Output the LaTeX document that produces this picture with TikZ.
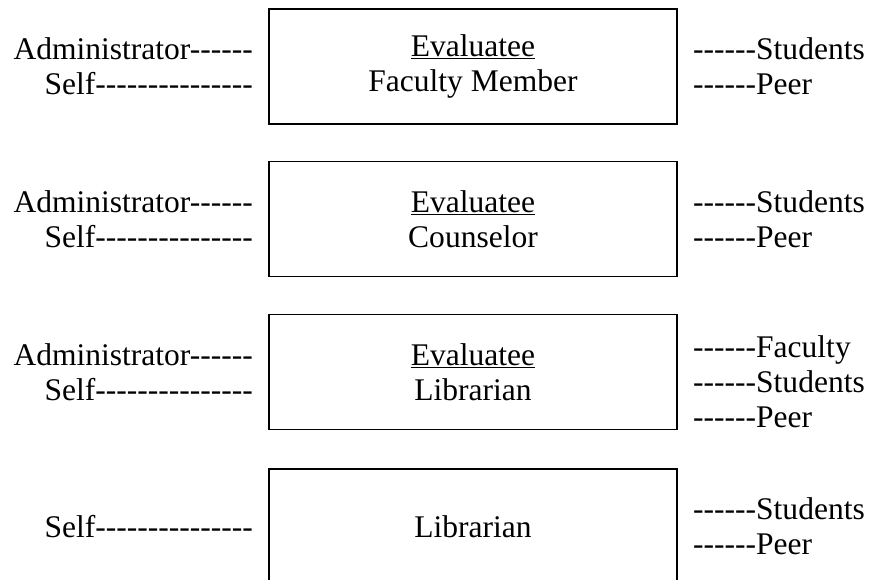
\documentclass[tikz,border=0pt]{standalone}
\usepackage{fontspec}
\setmainfont{Liberation Serif}[Ligatures=TeXOff]
\begin{document}
\begin{tikzpicture}[x=0.03cm,y=-0.03cm,
    every node/.style={font=\fontsize{26.9}{29.9}\selectfont,inner sep=0pt},
    evalbox/.style={rectangle,draw,line width=1pt,minimum width=12.24cm,minimum height=3.45cm,align=center},
    lhs/.style={anchor=east,align=right},
    rhs/.style={anchor=west,align=left}]
  \useasboundingbox (0,0) rectangle (869,579);
  \node[evalbox] (fac) at (473,66.5) {\underline{Evaluatee}\\Faculty Member};
  \node[evalbox] (cou) at (473,219) {\underline{Evaluatee}\\Counselor};
  \node[evalbox] (lib) at (473,372) {\underline{Evaluatee}\\Librarian};
  \node[evalbox] (lib2) at (473,526.5) {Librarian};
  \node[lhs] (facl) at (253,66.5) {Administrator------\\Self---------------};
  \node[rhs] (facr) at (693,66.5) {------Students\\------Peer};
  \node[lhs] (coul) at (253,219) {Administrator------\\Self---------------};
  \node[rhs] (cour) at (693,219) {------Students\\------Peer};
  \node[lhs] (libl) at (253,372) {Administrator------\\Self---------------};
  \node[rhs] (libr) at (693,382) {------Faculty\\------Students\\------Peer};
  \node[lhs] (lib2l) at (253,526.5) {Self---------------};
  \node[rhs] (lib2r) at (693,526.5) {------Students\\------Peer};
\end{tikzpicture}
\end{document}
